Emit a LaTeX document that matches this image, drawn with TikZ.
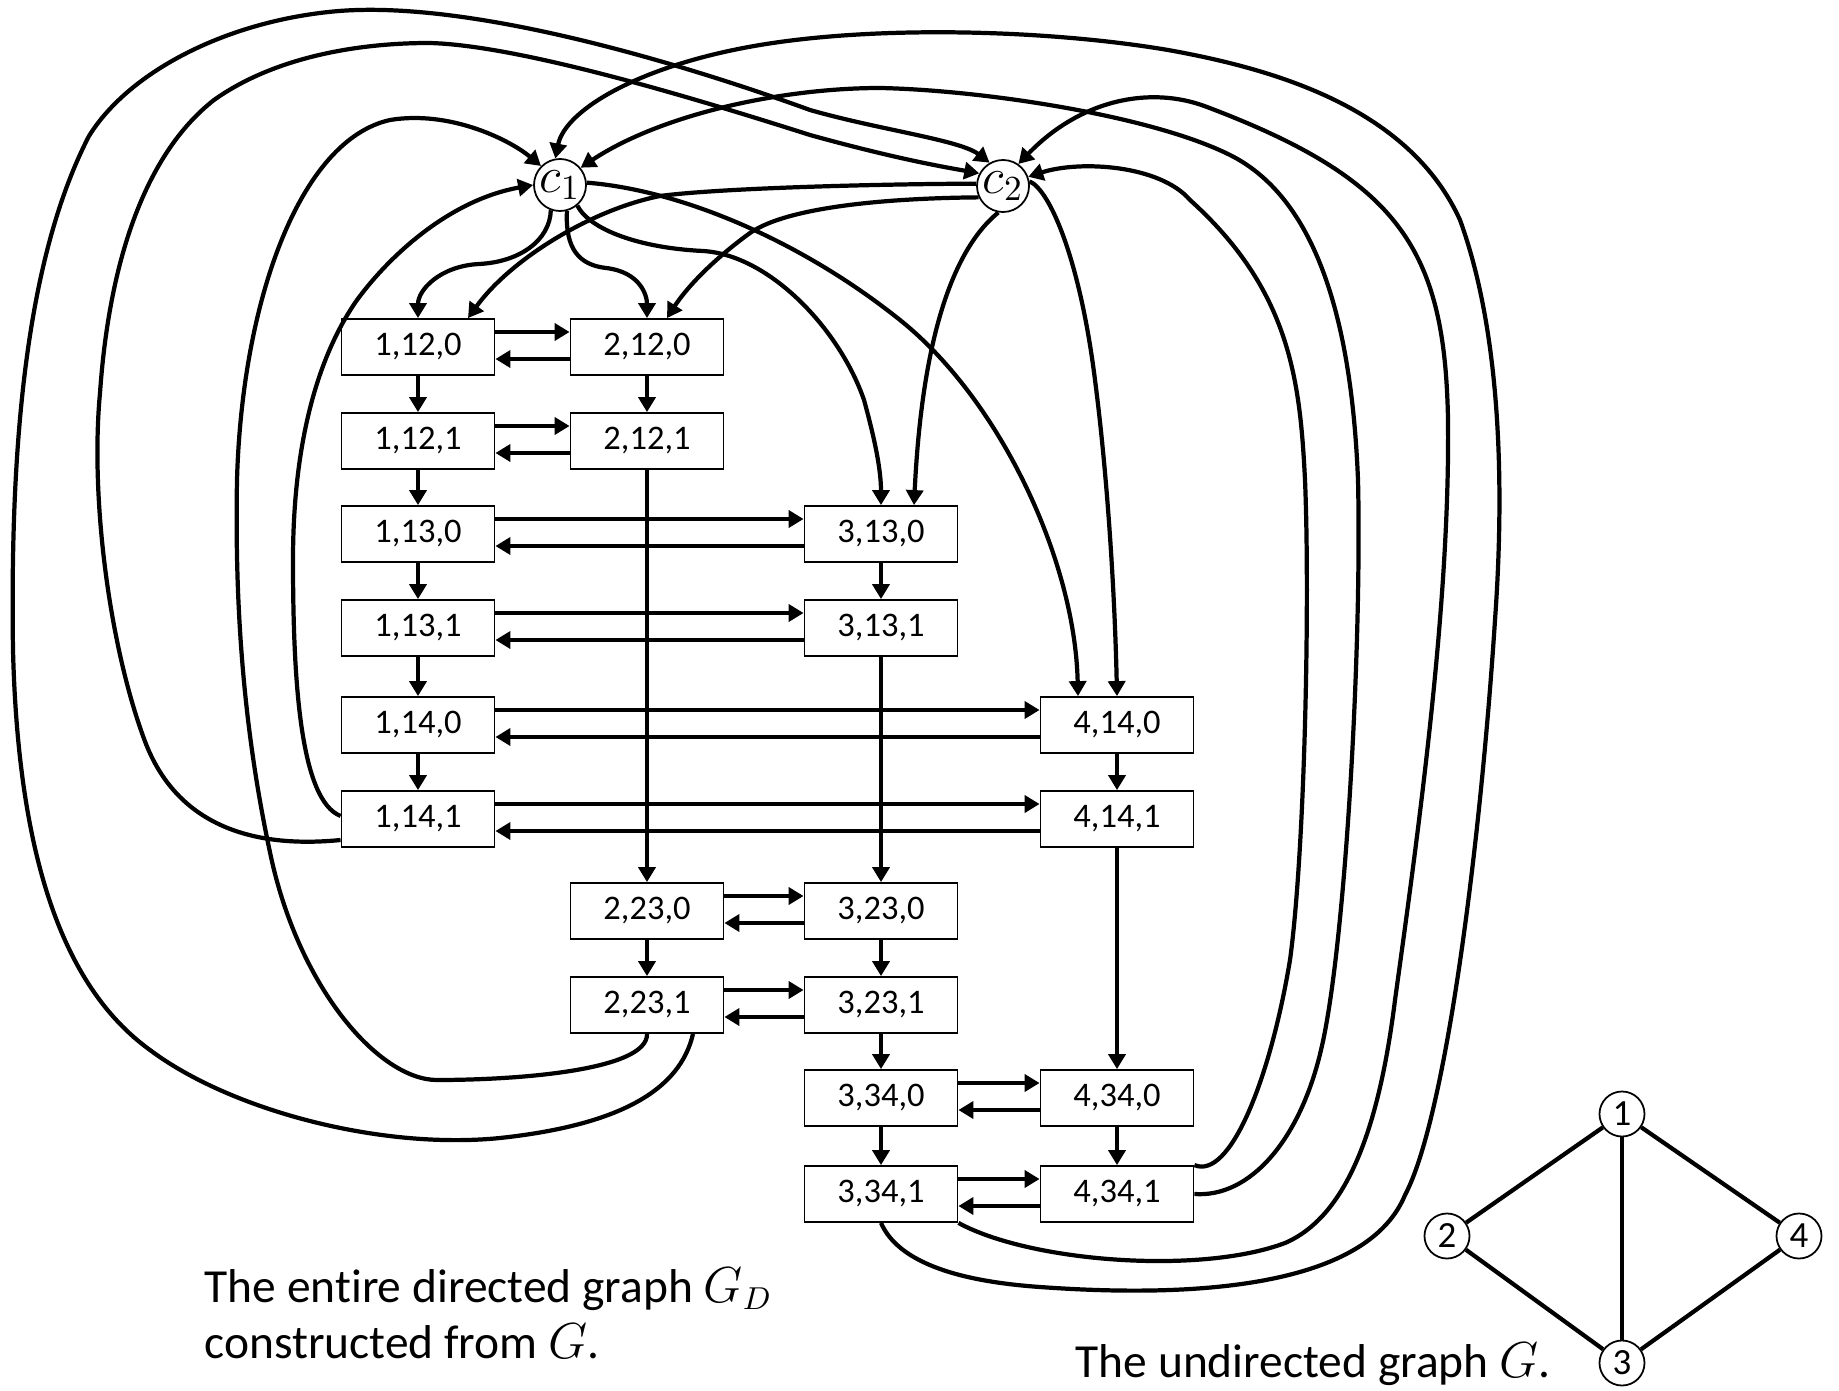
\documentclass[tikz,border=0pt]{standalone}
\usepackage{fontspec}
\setmainfont{Carlito}[Ligatures=NoCommon]
\usetikzlibrary{arrows.meta, positioning, calc}

\begin{document}
\begin{tikzpicture}[
    x=0.01cm, y=-0.01cm,
    >={Triangle[length=1.5mm, width=1.7mm]},
    box/.style={rectangle, draw=black, line width=0.5pt, minimum width=1.53cm, minimum height=0.56cm, inner sep=0pt, font=\fontsize{9.8}{11}\selectfont},
    cnode/.style={circle, draw=black, line width=0.5pt, minimum size=0.52cm, inner sep=0pt, font=\fontsize{14.4}{14.4}\selectfont},
    gnode/.style={circle, draw=black, line width=0.5pt, minimum size=0.45cm, inner sep=0pt, font=\fontsize{10.5}{10.5}\selectfont},
    straight/.style={->, line width=1.4pt},
    curvy/.style={->, line width=1.2pt},
    gedge/.style={line width=1.2pt},
    caption/.style={font=\fontsize{13.5}{15.9}\selectfont, align=left, inner sep=0pt}
]
\useasboundingbox (0,0) rectangle (1839,1391);

% Special vertices
\node[cnode] (c1) at (560,185) {$c_1$};
\node[cnode] (c2) at (1003,186) {$c_2$};

% Vertex 1
\node[box] (n1120) at (418,347) {1,12,0};
\node[box] (n1121) at (418,441) {1,12,1};
\node[box] (n1130) at (418,534) {1,13,0};
\node[box] (n1131) at (418,628) {1,13,1};
\node[box] (n1140) at (418,725) {1,14,0};
\node[box] (n1141) at (418,819) {1,14,1};

% Vertex 2
\node[box] (n2120) at (647,347) {2,12,0};
\node[box] (n2121) at (647,441) {2,12,1};
\node[box] (n2230) at (647,911) {2,23,0};
\node[box] (n2231) at (647,1005) {2,23,1};

% Vertex 3
\node[box] (n3130) at (881,534) {3,13,0};
\node[box] (n3131) at (881,628) {3,13,1};
\node[box] (n3230) at (881,911) {3,23,0};
\node[box] (n3231) at (881,1005) {3,23,1};
\node[box] (n3340) at (881,1098) {3,34,0};
\node[box] (n3341) at (881,1194) {3,34,1};

% Vertex 4
\node[box] (n4140) at (1117,725) {4,14,0};
\node[box] (n4141) at (1117,819) {4,14,1};
\node[box] (n4340) at (1117,1098) {4,34,0};
\node[box] (n4341) at (1117,1194) {4,34,1};

% Chains down each column
\draw[straight] (n1120) -- (n1121);
\draw[straight] (n1121) -- (n1130);
\draw[straight] (n1130) -- (n1131);
\draw[straight] (n1131) -- (n1140);
\draw[straight] (n1140) -- (n1141);
\draw[straight] (n2120) -- (n2121);
\draw[straight] (n2121) -- (n2230);
\draw[straight] (n2230) -- (n2231);
\draw[straight] (n3130) -- (n3131);
\draw[straight] (n3131) -- (n3230);
\draw[straight] (n3230) -- (n3231);
\draw[straight] (n3231) -- (n3340);
\draw[straight] (n3340) -- (n3341);
\draw[straight] (n4140) -- (n4141);
\draw[straight] (n4141) -- (n4340);
\draw[straight] (n4340) -- (n4341);

% Edge pairs
\draw[straight] ($(n1120.east)+(0,-15)$) -- ($(n2120.west)+(0,-15)$);
\draw[straight] ($(n2120.west)+(0,12)$) -- ($(n1120.east)+(0,12)$);
\draw[straight] ($(n1121.east)+(0,-15)$) -- ($(n2121.west)+(0,-15)$);
\draw[straight] ($(n2121.west)+(0,12)$) -- ($(n1121.east)+(0,12)$);
\draw[straight] ($(n1130.east)+(0,-15)$) -- ($(n3130.west)+(0,-15)$);
\draw[straight] ($(n3130.west)+(0,12)$) -- ($(n1130.east)+(0,12)$);
\draw[straight] ($(n1131.east)+(0,-15)$) -- ($(n3131.west)+(0,-15)$);
\draw[straight] ($(n3131.west)+(0,12)$) -- ($(n1131.east)+(0,12)$);
\draw[straight] ($(n1140.east)+(0,-15)$) -- ($(n4140.west)+(0,-15)$);
\draw[straight] ($(n4140.west)+(0,12)$) -- ($(n1140.east)+(0,12)$);
\draw[straight] ($(n1141.east)+(0,-15)$) -- ($(n4141.west)+(0,-15)$);
\draw[straight] ($(n4141.west)+(0,12)$) -- ($(n1141.east)+(0,12)$);
\draw[straight] ($(n2230.east)+(0,-15)$) -- ($(n3230.west)+(0,-15)$);
\draw[straight] ($(n3230.west)+(0,12)$) -- ($(n2230.east)+(0,12)$);
\draw[straight] ($(n2231.east)+(0,-15)$) -- ($(n3231.west)+(0,-15)$);
\draw[straight] ($(n3231.west)+(0,12)$) -- ($(n2231.east)+(0,12)$);
\draw[straight] ($(n3340.east)+(0,-15)$) -- ($(n4340.west)+(0,-15)$);
\draw[straight] ($(n4340.west)+(0,12)$) -- ($(n3340.east)+(0,12)$);
\draw[straight] ($(n3341.east)+(0,-15)$) -- ($(n4341.west)+(0,-15)$);
\draw[straight] ($(n4341.west)+(0,12)$) -- ($(n3341.east)+(0,12)$);

% Out of c1 and c2
\draw[curvy] (c1.250) .. controls (550,240) and (520,262) .. (479,264) .. controls (440,266) and (418,290) .. (n1120.north);
\draw[curvy] (c1.285) .. controls (565,250) and (580,265) .. (606,268) .. controls (640,272) and (647,295) .. (n2120.north);
\draw[curvy] (c1.-50) .. controls (590,230) and (640,248) .. (703,251) .. controls (770,255) and (840,330) .. (864,400) .. controls (875,440) and (881,470) .. (n3130.north);
\draw[curvy] (c1.5) .. controls (680,190) and (800,240) .. (900,320) .. controls (1000,400) and (1075,560) .. ($(n4140.north)+(-39,0)$);
\draw[curvy] (c2.175) .. controls (880,184) and (720,188) .. (660,196) .. controls (590,210) and (510,260) .. ($(n1120.north)+(50,0)$);
\draw[curvy] (c2.205) .. controls (900,198) and (790,205) .. (750,233) .. controls (710,262) and (685,290) .. ($(n2120.north)+(20,0)$);
\draw[curvy] (c2.260) .. controls (940,260) and (920,380) .. ($(n3130.north)+(33,0)$);
\draw[curvy] (c2.10) .. controls (1050,190) and (1080,260) .. (1095,380) .. controls (1108,480) and (1115,600) .. (n4140.north);

% Back into c1 and c2, left side
\draw[curvy] ($(n1141.west)+(0,-3)$) .. controls (300,800) and (293,680) .. (293,560) .. controls (293,450) and (315,360) .. (357,300) .. controls (390,255) and (450,200) .. (c1.180);
\draw[curvy] ($(n1141.west)+(0,21)$) .. controls (260,848) and (180,830) .. (146,744) .. controls (110,650) and (90,500) .. (100,393) .. controls (110,250) and (150,150) .. (214,100) .. controls (270,60) and (350,43) .. (429,43) .. controls (520,45) and (700,100) .. (810,135) .. controls (900,160) and (950,168) .. (c2.152);
\draw[curvy] (n2231.south) .. controls (648,1070) and (520,1080) .. (437,1080) .. controls (380,1080) and (300,990) .. (271,857) .. controls (250,760) and (234,640) .. (237,480) .. controls (242,300) and (300,140) .. (390,120) .. controls (450,110) and (510,140) .. (c1.135);
\draw[curvy] ($(n2231.south)+(46,0)$) .. controls (680,1090) and (620,1125) .. (500,1138) .. controls (380,1150) and (230,1110) .. (150,1050) .. controls (60,985) and (18,850) .. (13,650) .. controls (10,450) and (25,260) .. (89,136) .. controls (130,70) and (230,20) .. (339,11) .. controls (480,0) and (700,70) .. (810,110) .. controls (880,130) and (960,140) .. (c2.120);

% Back into c1 and c2, right side
\draw[curvy] (n4341.north east) .. controls (1230,1180) and (1270,1080) .. (1290,960) .. controls (1305,850) and (1310,600) .. (1305,480) .. controls (1300,380) and (1290,290) .. (1190,200) .. controls (1160,165) and (1080,160) .. (c2.20);
\draw[curvy] (n4341.east) .. controls (1250,1198) and (1300,1140) .. (1321,1050) .. controls (1345,950) and (1362,650) .. (1358,480) .. controls (1352,330) and (1320,200) .. (1230,155) .. controls (1150,115) and (980,90) .. (880,88) .. controls (780,88) and (660,115) .. (c1.40);
\draw[curvy] (n3341.south east) .. controls (1030,1262) and (1200,1275) .. (1285,1243) .. controls (1350,1215) and (1380,1120) .. (1395,1000) .. controls (1420,820) and (1450,600) .. (1448,420) .. controls (1445,250) and (1400,180) .. (1207,107) .. controls (1150,85) and (1080,100) .. (c2.55);
\draw[curvy] (n3341.south) .. controls (895,1255) and (940,1280) .. (1040,1287) .. controls (1220,1300) and (1370,1280) .. (1405,1195) .. controls (1445,1120) and (1480,850) .. (1495,620) .. controls (1505,480) and (1500,330) .. (1460,220) .. controls (1410,110) and (1280,70) .. (1168,50) .. controls (1050,30) and (880,25) .. (760,45) .. controls (640,65) and (565,110) .. (c1.100);

% The undirected graph
\node[gnode] (g1) at (1622,1114) {1};
\node[gnode] (g2) at (1447,1236) {2};
\node[gnode] (g4) at (1799,1236) {4};
\node[gnode] (g3) at (1622,1363) {3};
\draw[gedge] (g1) -- (g2);
\draw[gedge] (g1) -- (g3);
\draw[gedge] (g1) -- (g4);
\draw[gedge] (g2) -- (g3);
\draw[gedge] (g3) -- (g4);

% Captions
\node[caption, anchor=north west] (capd) at (204,1267) {The entire directed graph $G_D$\\constructed from $G$.};
\node[caption, anchor=base west] (capg) at (1075,1377) {The undirected graph $G$.};

\end{tikzpicture}
\end{document}
